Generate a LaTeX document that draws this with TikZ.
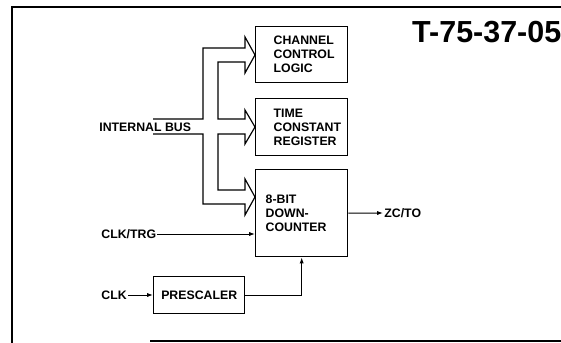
\documentclass[tikz,border=0pt]{standalone}
\usepackage{fontspec}
\setmainfont{Liberation Sans}
\usetikzlibrary{arrows.meta}
\hfuzz=30pt
\begin{document}
\begin{tikzpicture}[x=0.03cm,y=-0.03cm,
  blk/.style={draw,line width=1.2pt,anchor=north west,align=left,
    font=\bfseries\fontsize{10.5}{12}\selectfont},
  lbl/.style={font=\bfseries\fontsize{10.5}{12}\selectfont,inner sep=1pt,text depth=0pt,anchor=west},
  sig/.style={line width=0.8pt,-{Latex[length=5pt,width=3.5pt]}},
  bus/.style={line width=1pt}]
\useasboundingbox (0,0) rectangle (561,343);

\draw[line width=1.5pt] (12,343)--(12,7)--(561,7);
\draw[line width=1.5pt] (150,341)--(561,341);

\node[blk,minimum width=2.76cm,minimum height=1.68cm,text width=1.68cm] (ccl) at (255,26) {CHANNEL\\CONTROL\\LOGIC};
\node[blk,minimum width=2.76cm,minimum height=1.71cm,text width=1.68cm] (tcr) at (255,98) {TIME\\CONSTANT\\REGISTER};
\node[blk,minimum width=2.76cm,minimum height=2.61cm,text width=2.16cm] (cnt) at (255,169) {8-BIT\\DOWN-\\COUNTER};
\node[blk,minimum width=2.73cm,minimum height=1.11cm,align=center] (pre) at (153,276) {PRESCALER};

\node[lbl] (bus) at (98,127) {INTERNAL BUS};
\node[lbl] (trg) at (100,234) {CLK/TRG};
\node[lbl] (clk) at (100,295) {CLK};
\node[lbl] (zc) at (383,213) {ZC/TO};
\node[anchor=base west,inner sep=0pt,font=\bfseries\fontsize{26}{30}\selectfont] (tag) at (412,43) {T-75-37-05};

\draw[bus] (153,119)--(203,119)--(203,48)--(245,48)--(245,37)--(255,55)--(245,73)--(245,62)
  --(218,62)--(218,119)--(245,119)--(245,110)--(255,127)--(245,144)--(245,134)
  --(218,134)--(218,190)--(245,190)--(245,179)--(255,197)--(245,215)--(245,204)
  --(203,204)--(203,134)--(153,134);

\draw[sig] (trg.east)--(trg.east -| cnt.west);
\draw[sig] (cnt.east)--(zc.west);
\draw[sig] (clk.east)--(clk.east -| pre.west);
\draw[sig] (pre.east) -| (cnt.south);
\end{tikzpicture}
\end{document}
